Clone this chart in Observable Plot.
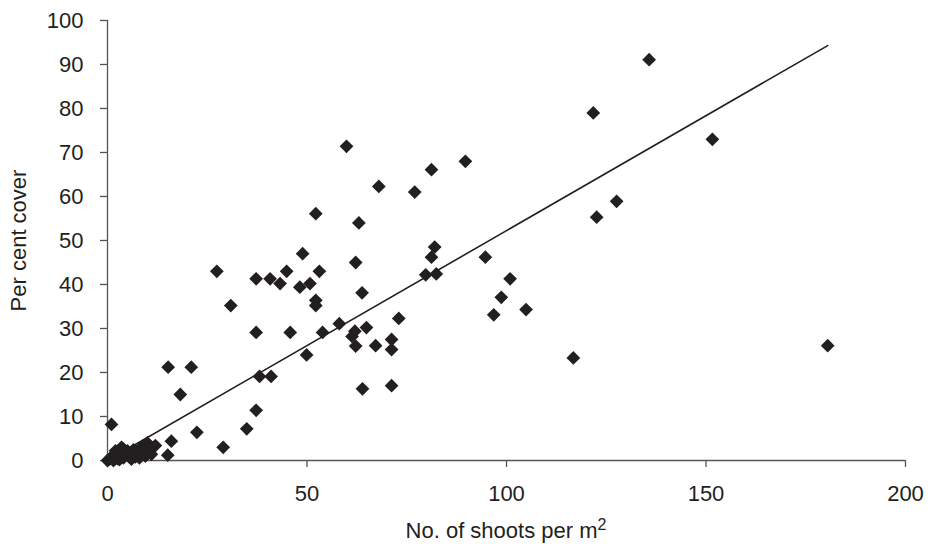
<!DOCTYPE html>
<html>
<head>
<meta charset="utf-8">
<script src="https://cdn.jsdelivr.net/npm/d3@7"></script>
<script src="https://cdn.jsdelivr.net/npm/@observablehq/plot@0.6"></script>
<style>
  html, body { margin: 0; padding: 0; background: #fff; }
  #chart { width: 930px; height: 544px; }
  svg { font-family: "Liberation Sans", Arial, sans-serif; }
</style>
</head>
<body>
<div id="chart"></div>
<script>
// Shoots per m² (x) and per cent cover (y)
const shoots = [
  0, 0.5, 1, 1.5, 2, 2.5, 3, 3.5, 4, 4.5, 5, 5.5, 6, 6.5, 7, 7.5, 8, 8.5, 9, 9.5,
  10, 10.5, 11, 12, 2, 4, 7, 9, 11, 6, 3, 8,
  1, 15.2, 21, 18.25, 16, 15.1, 22.4, 29, 27.4, 30.9,
  37.25, 40.75, 43.25, 44.9, 48.9, 53.1, 48.2, 50.75, 52.2, 52.2,
  37.25, 45.8, 53.9, 58.1, 49.9, 38.1, 41, 37.25, 34.9,
  59.9, 68, 77, 81.2, 89.7, 52.2, 63, 62.2, 63.8, 82, 81.2, 79.75, 82.4,
  94.7, 98.7, 96.8, 73, 62, 61.3, 62.2, 64.9, 67.2, 71.2, 71.2, 63.9, 71.2,
  121.75, 127.6, 122.6, 100.9, 104.9, 116.75, 135.75, 151.6, 180.5
];
const cover = [
  0, 0.3, 0.8, 0, 1, 0.4, 1.8, 3, 0.6, 1.5, 2.2, 0.8, 1.6, 2.4, 0.8, 1.8, 2.6, 1.2, 2, 1,
  4, 2.4, 3, 3.4, 2.2, 2.6, 2.2, 3.4, 1.4, 0.3, 0.2, 0.6,
  8.2, 21.2, 21.2, 15, 4.4, 1.2, 6.4, 3, 43, 35.2,
  41.3, 41.3, 40.2, 43, 47, 43, 39.4, 40.2, 36.4, 35.2,
  29.1, 29.1, 29.1, 31.1, 24, 19.1, 19.1, 11.4, 7.2,
  71.4, 62.3, 61, 66.1, 68, 56.1, 54, 45, 38.1, 48.5, 46.2, 42.2, 42.4,
  46.2, 37.1, 33.1, 32.3, 29.4, 28.2, 26, 30.2, 26.1, 27.5, 25.2, 16.3, 17,
  79, 58.9, 55.3, 41.3, 34.3, 23.3, 91.1, 73, 26.1
];
// Linear trend line end points
const trendX = [0, 180.5];
const trendY = [0, 94.3];

const xTicks = [0, 50, 100, 150, 200];
const yTicks = [0, 10, 20, 30, 40, 50, 60, 70, 80, 90, 100];
const xLabel = "No. of shoots per m";
const yLabel = "Per cent cover";

const points = shoots.map((x, i) => ({x, y: cover[i]}));
const trend = trendX.map((x, i) => ({x, y: trendY[i]}));
const ink = "#231f20";

const plot = Plot.plot({
  width: 930,
  height: 544,
  marginLeft: 107,
  marginRight: 25,
  marginTop: 20,
  marginBottom: 84,
  style: {fontFamily: "Liberation Sans, Arial, sans-serif", fontSize: "22px", color: ink, background: "#fff"},
  x: {domain: [0, 200], ticks: xTicks, label: null},
  y: {domain: [0, 100], ticks: yTicks, label: null},
  marks: [
    Plot.axisX({ticks: xTicks, tickSize: 7, tickPadding: 18, stroke: "#555", strokeWidth: 1.3, fill: ink, label: null}),
    Plot.axisY({ticks: yTicks, tickSize: 7, tickPadding: 17, stroke: "#555", strokeWidth: 1.3, fill: ink, label: null}),
    Plot.ruleX([0], {stroke: "#555", strokeWidth: 1.3}),
    Plot.ruleY([0], {stroke: "#555", strokeWidth: 1.3}),
    Plot.line(trend, {x: "x", y: "y", stroke: ink, strokeWidth: 1.6}),
    Plot.dot(points, {x: "x", y: "y", symbol: "diamond2", r: 6.2, fill: ink, stroke: "none"}),
    Plot.text([yLabel], {frameAnchor: "left", dx: -89, rotate: -90, textAnchor: "middle", fontSize: 22, fill: ink})
  ]
});
document.getElementById("chart").appendChild(plot);

// x-axis title with a superscript 2
const svg = d3.select(plot);
const t = svg.append("text")
  .attr("x", (107 + 905) / 2)
  .attr("y", 538)
  .attr("text-anchor", "middle")
  .attr("font-size", 22)
  .attr("fill", ink);
t.append("tspan").text(xLabel);
t.append("tspan").attr("font-size", 16).attr("dy", -8).text("2");
</script>
</body>
</html>
